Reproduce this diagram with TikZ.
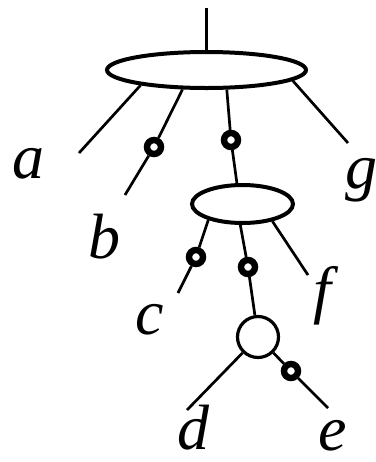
\documentclass[tikz,border=0pt]{standalone}
\usepackage{fontspec}
\setmainfont{Liberation Serif}
\usetikzlibrary{shapes.geometric}

\begin{document}
\begin{tikzpicture}[
    x=0.5pt, y=-0.5pt,
    wire/.style={line width=1.35pt},
    blob/.style={ellipse, draw, line width=2pt, inner sep=0pt},
    knot/.style={circle, draw, line width=1.6pt, inner sep=0pt,
        minimum size=20.5pt},
    bead/.style={circle, draw, fill=white, line width=3.2pt,
        inner sep=0pt, minimum size=7pt},
    leaf/.style={inner sep=0pt,
        font=\fontsize{32}{38}\selectfont\itshape}
]

    \useasboundingbox (0,0) rectangle (376,462);

    %------------------------------------------------
    % Vertices
    %------------------------------------------------

    \node[blob, minimum width=99.5pt, minimum height=18pt]
        (top) at (206.5,70) {};

    \node[blob, minimum width=50.5pt, minimum height=19pt]
        (mid) at (242.5,204) {};

    \node[knot]
        (low) at (258,337) {};

    %------------------------------------------------
    % Free ends
    %------------------------------------------------

    \coordinate (root) at (206.5,8);
    \coordinate (enda) at (79,153);
    \coordinate (endb) at (125,195);
    \coordinate (endg) at (348,143);
    \coordinate (endc) at (178,293);
    \coordinate (endf) at (308,275);
    \coordinate (endd) at (187,410);
    \coordinate (ende) at (328,408);

    %------------------------------------------------
    % Beads
    %------------------------------------------------

    \node[bead] (beadb) at (154,147) {};
    \node[bead] (beadm) at (231,140) {};
    \node[bead] (beadc) at (196,257) {};
    \node[bead] (beadl) at (248,267) {};
    \node[bead] (beade) at (291,371) {};

    %------------------------------------------------
    % Edges
    %------------------------------------------------

    \draw[wire] (root) -- (top);
    \draw[wire] (top.193) -- (enda);
    \draw[wire] (top.219) -- (beadb) -- (endb);
    \draw[wire] (top.-44) -- (beadm) -- (mid.105);
    \draw[wire] (top.-7) -- (endg);

    \draw[wire] (mid.205) -- (beadc) -- (endc);
    \draw[wire] (mid.264) -- (beadl) -- (low);
    \draw[wire] (mid.-30) -- (endf);

    \draw[wire] (low) -- (endd);
    \draw[wire] (low) -- (beade) -- (ende);

    %------------------------------------------------
    % Labels
    %------------------------------------------------

    \node[leaf] (labela) at (28,164) {a};
    \node[leaf] (labelb) at (105,237) {b};
    \node[leaf] (labelg) at (361,180) {g};
    \node[leaf] (labelc) at (150,320) {c};
    \node[leaf] (labelf) at (322,296) {f};
    \node[leaf] (labeld) at (193,428) {d};
    \node[leaf] (labele) at (333,436) {e};

\end{tikzpicture}
\end{document}
